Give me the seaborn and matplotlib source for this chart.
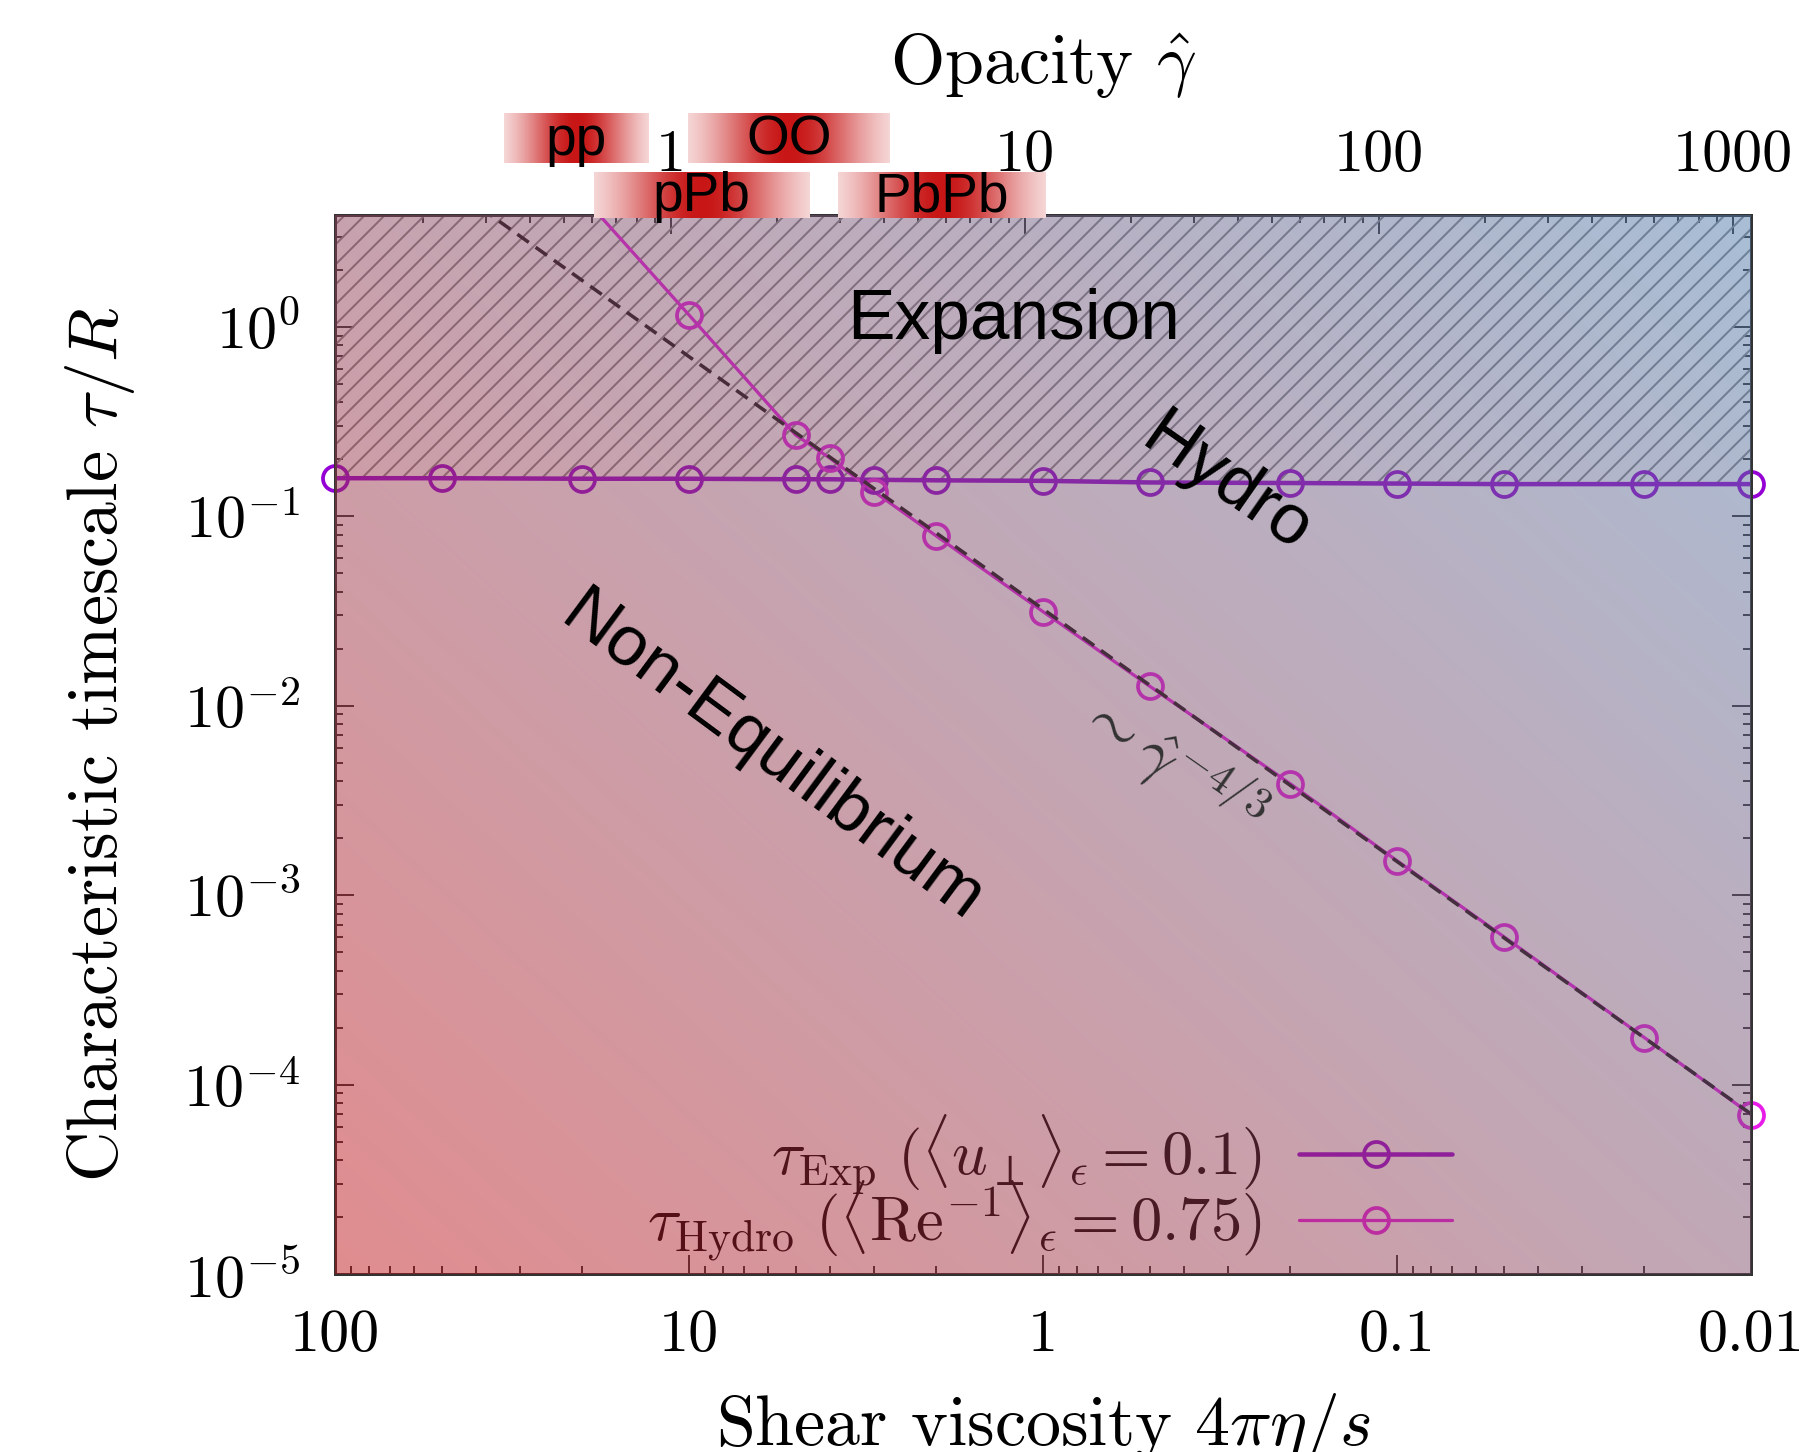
import numpy as np
import matplotlib
matplotlib.use('Agg')
import matplotlib.pyplot as plt
import matplotlib.ticker as ticker
from matplotlib.lines import Line2D
import seaborn as sns

# ---------------- data ----------------
eta_s = [100, 50, 20, 10, 5, 4, 3, 2, 1, 0.5, 0.2, 0.1, 0.05, 0.02, 0.01]
tau_exp = [0.159, 0.159, 0.158, 0.158, 0.157, 0.157, 0.156, 0.155, 0.154,
           0.151, 0.150, 0.149, 0.148, 0.148, 0.148]
eta_s_hydro = [20, 10, 5, 4, 3, 2, 1, 0.5, 0.2, 0.1, 0.05, 0.02, 0.01]
tau_hydro = [4.9, 1.157, 0.269, 0.203, 0.135, 0.0787, 0.0314, 0.0127,
             0.00387, 0.00152, 6.05e-4, 1.77e-4, 6.95e-5]
guide_x = [100, 0.01]
guide_y = [15.0, 7.0e-5]
gamma_per_eta = 11.25
x_ticks = [100, 10, 1, 0.1, 0.01]
gamma_ticks = [1, 10, 100, 1000]
systems = ['pp', 'OO', 'pPb', 'PbPb']
system_gamma_lo = [0.337, 1.12, 0.605, 2.96]
system_gamma_hi = [0.861, 4.15, 2.46, 11.4]
system_row = [1, 1, 0, 0]
labels = [r'$\tau_{\rm Exp}\ (\langle u_\perp\rangle_\epsilon = 0.1)$',
          r'$\tau_{\rm Hydro}\ (\langle {\rm Re}^{-1}\rangle_\epsilon = 0.75)$']

# ---------------- style ----------------
DPI = 180
sns.set_style('ticks')
plt.rcParams.update({
    'font.family': ['cmr10', 'DejaVu Serif'],
    'mathtext.fontset': 'cm',
    'axes.unicode_minus': False,
    'axes.formatter.use_mathtext': True,
    'hatch.linewidth': 0.8,
    'axes.linewidth': 1.2,
    'axes.edgecolor': '#333333',
    'text.color': 'black',
    'axes.labelcolor': 'black',
    'xtick.color': '#333333',
    'ytick.color': '#333333',
    'xtick.labelcolor': 'black',
    'ytick.labelcolor': 'black',
})
c_exp = '#9400d3'
c_hyd = '#e81ce8'
SANS = ['Liberation Sans', 'DejaVu Sans']

fig = plt.figure(figsize=(1800 / DPI, 1452 / DPI), dpi=DPI)
ax = fig.add_axes([335 / 1800, 1 - 1274 / 1452, 1416 / 1800, 1059 / 1452])
ax.set_facecolor('white')
ax.set_xscale('log')
ax.set_yscale('log')
ax.set_xlim(100, 0.01)
ax.set_ylim(1e-5, 3.9)
ax.set_autoscale_on(False)

# hatched expansion region
ax.fill_between(eta_s, tau_exp, 1e3, facecolor='none', edgecolor='#8a8a8a',
                hatch='///', linewidth=0, zorder=1)

# lines (clipped)
sns.lineplot(x=eta_s, y=tau_exp, ax=ax, color=c_exp, lw=1.8, legend=False, zorder=2)
sns.lineplot(x=eta_s_hydro, y=tau_hydro, ax=ax, color=c_hyd, lw=1.3, legend=False, zorder=2.1)

# markers (unclipped, only those inside the plotted range)
ymax = ax.get_ylim()[1]
for xs, ys, c, z in [(eta_s, tau_exp, c_exp, 2.2), (eta_s_hydro, tau_hydro, c_hyd, 2.3)]:
    xv = [a for a, b in zip(xs, ys) if b <= ymax]
    yv = [b for b in ys if b <= ymax]
    ax.plot(xv, yv, linestyle='none', marker='o', ms=10, mfc='none', mec=c,
            mew=1.5, clip_on=False, zorder=z)

# power-law guide
ax.plot(guide_x, guide_y, color='#111111', lw=1.4, dashes=(4.0, 2.4), zorder=2.4)

# legend
handles = [Line2D([], [], color=c_exp, lw=1.8, marker='o', ms=10, mfc='none', mew=1.5),
           Line2D([], [], color=c_hyd, lw=1.3, marker='o', ms=10, mfc='none', mew=1.5)]
leg = ax.legend(handles, labels, loc='lower right', bbox_to_anchor=(0.789, 0.009),
                markerfirst=False, frameon=False, fontsize=25, handlelength=2.45,
                handletextpad=0.6, labelspacing=-0.3, borderpad=0, borderaxespad=0)
leg.set_zorder(2.6)

# gradient overlay (semi-transparent, over data)
n = 256
u = np.linspace(0, 1, n)
U, V = np.meshgrid(u, u)
t = (0.55 * U + 0.45 * V)[..., None]
c0 = np.array([192, 20, 25]) / 255
c1 = np.array([78, 122, 171]) / 255
grad = c0 * (1 - t) + c1 * t
ax.imshow(grad, extent=(0, 1, 0, 1), transform=ax.transAxes, origin='lower',
          aspect='auto', alpha=0.49, zorder=3, interpolation='bilinear')

# region labels
ax.text(1.21, 1.07, 'Expansion', fontsize=28.5, family=SANS, color='black',
        ha='center', va='center', zorder=4)
ax.text(0.304, 0.148, 'Hydro', fontsize=28.5, family=SANS, color='black', ha='center',
        va='center', rotation=-35, zorder=4)
ax.text(5.87, 0.0053, 'Non-Equilibrium', fontsize=28.5, family=SANS, color='black',
        ha='center', va='center', rotation=-36.5, zorder=4)
ax.text(0.435, 0.005, r'$\sim\hat{\gamma}^{-4/3}$', fontsize=25.5, color='#333333',
        ha='center', va='center', rotation=-35, zorder=4)

# axes, ticks
ax.set_xticks(x_ticks)
ax.xaxis.set_major_formatter(ticker.FuncFormatter(lambda v, p: f'{v:g}'))
ax.xaxis.set_minor_formatter(ticker.NullFormatter())
ax.yaxis.set_major_locator(ticker.LogLocator(base=10, numticks=20))
ax.yaxis.set_major_formatter(ticker.FuncFormatter(
    lambda v, p: rf'$10^{{{int(round(np.log10(v)))}}}$'))
ax.yaxis.set_minor_formatter(ticker.NullFormatter())
ax.tick_params(which='both', direction='in', top=False, right=True,
               labelsize=24, pad=14)
ax.tick_params(which='major', length=7.6, width=0.8)
ax.tick_params(which='minor', length=3.2, width=0.8)
ax.set_xlabel(r'Shear viscosity $4\pi\eta/s$', fontsize=28)
ax.set_ylabel(r'Characteristic timescale $\tau/R$', fontsize=28)
ax.xaxis.set_label_coords(0.5, -0.1105)
ax.yaxis.set_label_coords(-0.140, 0.5)


def to_gamma(x):
    x = np.asarray(x, dtype=float)
    with np.errstate(divide='ignore'):
        return gamma_per_eta / x


secax = ax.secondary_xaxis('top', functions=(to_gamma, to_gamma))
secax.set_xticks(gamma_ticks)
secax.xaxis.set_major_formatter(ticker.FuncFormatter(lambda v, p: f'{v:g}'))
secax.xaxis.set_minor_formatter(ticker.NullFormatter())
secax.tick_params(which='both', direction='in', labelsize=24, pad=12.8)
secax.tick_params(which='major', length=7.6, width=0.8)
secax.tick_params(which='minor', length=3.2, width=0.8)
secax.set_xlabel(r'Opacity $\hat{\gamma}$', fontsize=28)
secax.xaxis.set_label_coords(0.5, 1.1235, transform=ax.transAxes)

# collision-system bands above the plot
row_y = {1: (1.0491, 1.0954), 0: (0.9972, 1.0406)}
prof_u = np.linspace(0, 1, 200)
alpha_prof = np.exp(-((prof_u - 0.5) / 0.38) ** 2)[None, :, None]
red = np.array([200, 22, 22]) / 255
band = np.ones((2, 200, 3)) * (1 - alpha_prof) + red * alpha_prof
to_axfrac = lambda xv: ax.transAxes.inverted().transform(ax.transData.transform((xv, 1.0)))[0]
for name, glo, ghi, row in zip(systems, system_gamma_lo, system_gamma_hi, system_row):
    xa = to_axfrac(gamma_per_eta / glo)
    xb = to_axfrac(gamma_per_eta / ghi)
    y0, y1 = row_y[row]
    ax.imshow(band, extent=(min(xa, xb), max(xa, xb), y0, y1), transform=ax.transAxes,
              aspect='auto', clip_on=False, zorder=6, interpolation='bilinear')
    ax.text((xa + xb) / 2, (y0 + y1) / 2 - 0.002, name, transform=ax.transAxes,
            fontsize=22, family=SANS, color='black', ha='center', va='center',
            zorder=7, clip_on=False)

ax.set_xlim(100, 0.01)
ax.set_ylim(1e-5, 3.9)
fig.savefig('out.png', dpi=DPI, facecolor='white')
